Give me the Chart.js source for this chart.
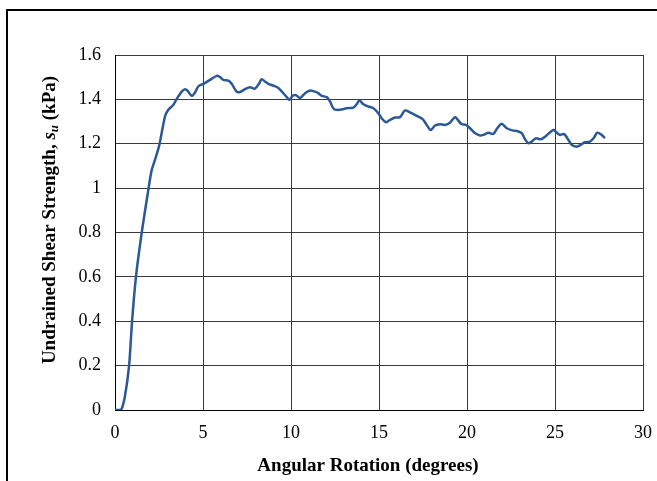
<!DOCTYPE html>
<html>
<head>
<meta charset="utf-8">
<script src="https://cdn.jsdelivr.net/npm/chart.js@4/dist/chart.umd.min.js"></script>
<style>
  html, body { margin: 0; padding: 0; background: #fff; overflow: hidden; }
  #wrap { position: relative; width: 657px; height: 481px; }
  #frame { position: absolute; left: 6px; top: 9px; width: 700px; height: 520px; border: 2px solid #000; box-sizing: border-box; }
  canvas { position: absolute; left: 0; top: 0; }
</style>
</head>
<body>
<div id="wrap">
  <div id="frame"></div>
  <canvas id="shearChart" width="657" height="481"></canvas>
</div>
<script>
// 角度 (degrees) 与不排水剪切强度 (kPa)
const angle = [
    0, 0.34, 0.57, 0.80, 0.97, 1.19, 1.52, 1.91, 2.08, 2.27,
    2.52, 2.84, 3.03, 3.31, 3.50, 3.79, 3.98, 4.11, 4.36, 4.55,
    4.73, 5.02, 5.40, 5.78, 5.97, 6.15, 6.44, 6.63, 6.91, 7.10,
    7.39, 7.67, 7.95, 8.20, 8.33, 8.52, 8.71, 9.03, 9.28, 9.53,
    9.76, 9.91, 10.10, 10.28, 10.51, 10.80, 11.08, 11.36, 11.55, 11.74,
    12.03, 12.22, 12.44, 12.78, 13.16, 13.54, 13.73, 13.88, 14.11, 14.39,
    14.68, 14.96, 15.15, 15.40, 15.63, 15.91, 16.19, 16.48, 16.76, 17.14,
    17.48, 17.71, 17.94, 18.18, 18.47, 18.75, 19.03, 19.32, 19.51, 19.70,
    19.94, 20.17, 20.45, 20.74, 21.02, 21.21, 21.49, 21.72, 21.97, 22.26,
    22.63, 22.82, 23.11, 23.30, 23.49, 23.68, 23.92, 24.19, 24.49, 24.81,
    24.94, 25.13, 25.28, 25.51, 25.70, 25.95, 26.23, 26.46, 26.70, 26.99,
    27.22, 27.40, 27.65, 27.84
];
const strength = [
    0, 0, 0.065, 0.20, 0.40, 0.60, 0.80, 1.00, 1.08, 1.127,
    1.195, 1.323, 1.353, 1.375, 1.401, 1.435, 1.446, 1.44, 1.416, 1.431,
    1.458, 1.47, 1.488, 1.506, 1.50, 1.488, 1.484, 1.47, 1.435, 1.433,
    1.446, 1.455, 1.448, 1.473, 1.491, 1.481, 1.47, 1.461, 1.451, 1.431,
    1.41, 1.398, 1.416, 1.419, 1.406, 1.428, 1.44, 1.435, 1.428, 1.416,
    1.41, 1.39, 1.356, 1.353, 1.36, 1.363, 1.378, 1.395, 1.378, 1.368,
    1.36, 1.338, 1.315, 1.297, 1.308, 1.318, 1.32, 1.35, 1.341, 1.326,
    1.311, 1.285, 1.262, 1.282, 1.288, 1.285, 1.295, 1.32, 1.304, 1.288,
    1.285, 1.27, 1.248, 1.237, 1.243, 1.25, 1.244, 1.27, 1.29, 1.27,
    1.259, 1.258, 1.248, 1.22, 1.202, 1.21, 1.225, 1.22, 1.235, 1.258,
    1.262, 1.248, 1.24, 1.244, 1.225, 1.195, 1.187, 1.195, 1.207, 1.21,
    1.228, 1.25, 1.24, 1.225
];
const xTicks = [0, 5, 10, 15, 20, 25, 30];
const yTicks = [0, 0.2, 0.4, 0.6, 0.8, 1, 1.2, 1.4, 1.6];

const xTitle = 'Angular Rotation (degrees)';
const yTitleParts = ['Undrained Shear Strength, ', 's', 'u', ' (kPa)'];

const FONT = "'Liberation Serif', 'Times New Roman', serif";

// 手动绘制坐标轴标题 (y 轴标题含斜体下标)
const axisTitles = {
    id: 'axisTitles',
    afterDraw(chart) {
        const ctx = chart.ctx;
        const area = chart.chartArea;
        ctx.save();
        ctx.fillStyle = '#000';
        ctx.textBaseline = 'middle';

        ctx.font = 'bold 19px ' + FONT;
        ctx.textAlign = 'center';
        ctx.fillText(xTitle, (area.left + area.right) / 2 - 11, 466);

        const fonts = [
            'bold 19px ' + FONT,
            'italic bold 19px ' + FONT,
            'italic bold 13px ' + FONT,
            'bold 19px ' + FONT
        ];
        const offsets = [0, 0, 5, 0];
        let total = 0;
        const widths = yTitleParts.map((t, i) => {
            ctx.font = fonts[i];
            const w = ctx.measureText(t).width;
            total += w;
            return w;
        });
        ctx.translate(50, 220);
        ctx.rotate(-Math.PI / 2);
        ctx.textAlign = 'left';
        let x = -total / 2;
        yTitleParts.forEach((t, i) => {
            ctx.font = fonts[i];
            ctx.fillText(t, x, offsets[i]);
            x += widths[i];
        });
        ctx.restore();
    }
};

const ctx = document.getElementById('shearChart').getContext('2d');
new Chart(ctx, {
    type: 'scatter',
    data: {
        datasets: [{
            data: angle.map((a, i) => ({ x: a, y: strength[i] })),
            showLine: true,
            borderColor: '#2B5896',
            borderWidth: 2.5,
            pointRadius: 0,
            tension: 0.3,
            fill: false
        }]
    },
    options: {
        responsive: false,
        animation: false,
        layout: {
            padding: { left: 0, top: 55, right: 0, bottom: 0 }
        },
        scales: {
            x: {
                type: 'linear',
                min: 0,
                max: 30,
                afterBuildTicks: scale => { scale.ticks = xTicks.map(v => ({ value: v })); },
                afterFit: scale => {
                    scale.height = 71;
                    scale.paddingLeft = 0;
                    scale.paddingRight = 14;
                },
                ticks: {
                    color: '#000',
                    padding: 12,
                    font: { family: FONT, size: 18 },
                    maxRotation: 0
                },
                grid: { color: '#3a3a3a', lineWidth: 1, drawTicks: false },
                border: { color: '#000', width: 1 }
            },
            y: {
                type: 'linear',
                min: 0,
                max: 1.6,
                afterBuildTicks: scale => { scale.ticks = yTicks.map(v => ({ value: v })); },
                afterFit: scale => { scale.width = 115; },
                ticks: {
                    color: '#000',
                    padding: 14,
                    font: { family: FONT, size: 18 },
                    callback: v => String(v)
                },
                grid: { color: '#3a3a3a', lineWidth: 1, drawTicks: false },
                border: { color: '#000', width: 1 }
            }
        },
        plugins: {
            legend: { display: false },
            tooltip: { enabled: false }
        }
    },
    plugins: [axisTitles]
});
</script>
</body>
</html>
